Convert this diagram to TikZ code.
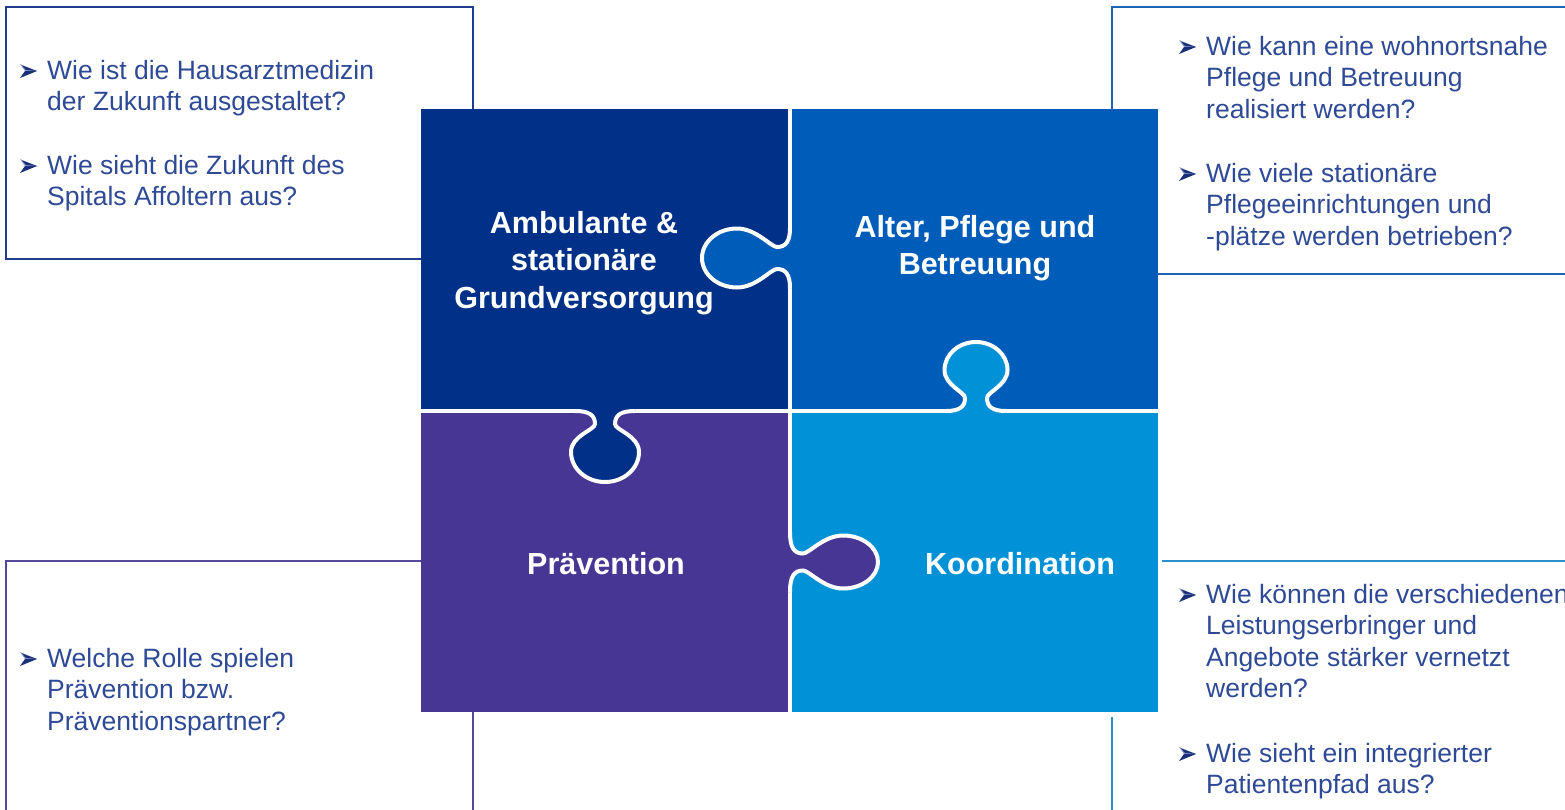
\documentclass[tikz,border=0pt]{standalone}
\usepackage{fontspec}
\setmainfont{Liberation Sans}
\definecolor{cTL}{HTML}{003087}
\definecolor{cTR}{HTML}{005CB9}
\definecolor{cBL}{HTML}{483694}
\definecolor{cBR}{HTML}{0091D6}
\definecolor{lTL}{HTML}{1F3D8C}
\definecolor{lTR}{HTML}{1E64B4}
\definecolor{lBL}{HTML}{53489A}
\definecolor{lBR}{HTML}{2C8FCB}
\definecolor{txt}{HTML}{2E4A96}
\definecolor{bulDark}{HTML}{1A2F7A}
\definecolor{bulLight}{HTML}{8C9AC8}
\newcommand\puzzletabpath[4]{(-30,0) .. controls ({-#4-6},0) and ({-#4},4) .. ({-#4},13) .. controls ({-#4},19) and ({-#2},{#1-#3-0.55*#3}) .. ({-#2},{#1-#3}) .. controls ({-#2},{#1-#3+0.552*#3}) and ({-0.552*#2},#1) .. (0,#1) .. controls ({0.552*#2},#1) and (#2,{#1-#3+0.552*#3}) .. (#2,{#1-#3}) .. controls (#2,{#1-#3-0.55*#3}) and (#4,19) .. (#4,13) .. controls (#4,4) and ({#4+6},0) .. (30,0)}
\newcommand\puzzletab[6]{%
\begin{scope}[#1]
\fill[#2] \puzzletabpath{#3}{#4}{#5}{#6} -- (30,-4) -- (-30,-4) -- cycle;
\draw[white, line width=4pt] \puzzletabpath{#3}{#4}{#5}{#6};
\end{scope}}
\tikzset{
  boxline/.style={line width=2pt},
  para/.style={anchor=base west, inner sep=0pt, text=txt, font=\fontsize{26.5}{31.5}\selectfont},
  label/.style={anchor=base, inner sep=0pt, text=white, font=\bfseries\fontsize{30.5}{37.5}\selectfont},
  sep/.style={white, line width=4pt},
  arrowbullet/.pic={
    \fill[bulLight] (0,-7) -- (17,0) -- (5,0) -- cycle;
    \fill[bulDark] (5,0) -- (17,0) -- (0,7) -- cycle;
    \fill[bulDark] (2,-5.5) -- (17,0) -- (6,-1) -- cycle;
  }
}
\begin{document}
\begin{tikzpicture}[x=1pt,y=-1pt]
\useasboundingbox (0,0) rectangle (1565,809);
% frames
\draw[boxline, lTL] (473,110) -- (473,7) -- (6,7) -- (6,259) -- (422,259);
\draw[boxline, lTR] (1112,110) -- (1112,7) -- (1570,7);
\draw[boxline, lTR] (1157,274) -- (1570,274);
\draw[boxline, lBL] (422,561) -- (6,561) -- (6,815);
\draw[boxline, lBL] (473,711) -- (473,815);
\draw[boxline, lBR] (1162,561) -- (1570,561);
\draw[boxline, lBR] (1112,717) -- (1112,815);
% puzzle pieces
\fill[cTL] (421,109) rectangle (790,411);
\fill[cTR] (790,109) rectangle (1158,411);
\fill[cBL] (421,411) rectangle (790,712);
\fill[cBR] (790,411) rectangle (1158,712);
\draw[sep] (790,109) -- (790,712);
\draw[sep] (421,411) -- (1158,411);
% tabs
\puzzletab{shift={(790,258)}, x={(0pt,-1pt)}, y={(-1pt,0pt)}}{cTR}{88}{29.5}{35}{11}
\puzzletab{shift={(976,411)}, x={(1pt,0pt)}, y={(0pt,1pt)}}{cBR}{69}{31.5}{28}{11}
\puzzletab{shift={(605,411)}}{cTL}{71}{34}{30}{10}
\puzzletab{shift={(790,562)}, x={(0pt,-1pt)}, y={(1pt,0pt)}}{cBL}{88}{26.5}{35}{8.5}
% labels
\node[label] (lab1) at (584,233) {\parbox[t]{300pt}{\centering Ambulante \&\\stationäre\\Grundversorgung}};
\node[label] (lab2) at (975,237) {\parbox[t]{300pt}{\centering Alter, Pflege und\\Betreuung}};
\node[label] (lab3) at (606,574) {Prävention};
\node[label] (lab4) at (1020,574) {Koordination};
% top-left texts
\pic at (20,71) {arrowbullet};
\node[para] (q1) at (47,79) {\parbox[t]{420pt}{Wie ist die Hausarztmedizin\\der Zukunft ausgestaltet?}};
\pic at (20,166) {arrowbullet};
\node[para] (q2) at (47,174) {\parbox[t]{420pt}{Wie sieht die Zukunft des\\Spitals Affoltern aus?}};
% top-right texts
\pic at (1179,47) {arrowbullet};
\node[para] (q3) at (1206,55) {\parbox[t]{420pt}{Wie kann eine wohnortsnahe\\Pflege und Betreuung\\realisiert werden?}};
\pic at (1179,174) {arrowbullet};
\node[para] (q4) at (1206,182) {\parbox[t]{420pt}{Wie viele stationäre\\Pflegeeinrichtungen und\\-plätze werden betrieben?}};
% bottom-left text
\pic at (20,659) {arrowbullet};
\node[para] (q5) at (47,667) {\parbox[t]{420pt}{Welche Rolle spielen\\Prävention bzw.\\Präventionspartner?}};
% bottom-right texts
\pic at (1179,595) {arrowbullet};
\node[para] (q6) at (1206,603) {\parbox[t]{420pt}{Wie können die verschiedenen\\Leistungserbringer und\\Angebote stärker vernetzt\\werden?}};
\pic at (1179,754) {arrowbullet};
\node[para] (q7) at (1206,762) {\parbox[t]{420pt}{Wie sieht ein integrierter\\Patientenpfad aus?}};
\end{tikzpicture}
\end{document}
